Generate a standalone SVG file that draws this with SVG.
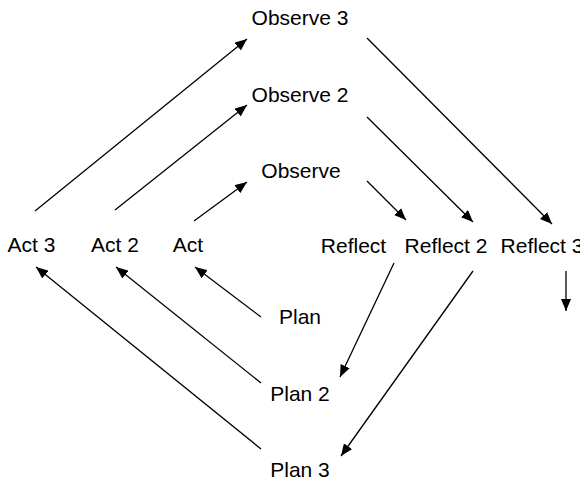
<svg xmlns="http://www.w3.org/2000/svg" width="580" height="481" viewBox="0 0 580 481">
  <style>
    text { font-family: "Liberation Sans", Arial, Helvetica, sans-serif; font-size: 21px; fill: #000; text-anchor: middle; }
    .edge { stroke: #000; stroke-width: 1.3; fill: none; marker-end: url(#arrow); }
  </style>
  <defs>
    <marker id="arrow" viewBox="0 0 12 10" refX="12" refY="5" markerWidth="12" markerHeight="10" orient="auto" markerUnits="userSpaceOnUse">
      <path d="M0,0 L12,5 L0,10 z" fill="#000"/>
    </marker>
  </defs>
  <rect width="580" height="481" fill="#fff"/>
  <g id="observe3"><text x="300" y="25">Observe 3</text></g>
  <g id="observe2"><text x="300" y="102">Observe 2</text></g>
  <g id="observe"><text x="301" y="178">Observe</text></g>
  <g id="act3"><text x="31.5" y="252">Act 3</text></g>
  <g id="act2"><text x="115" y="252">Act 2</text></g>
  <g id="act"><text x="188" y="252">Act</text></g>
  <g id="reflect"><text x="353.5" y="252.5">Reflect</text></g>
  <g id="reflect2"><text x="446" y="252.5">Reflect 2</text></g>
  <g id="reflect3"><text x="542" y="252.5">Reflect 3</text></g>
  <g id="plan"><text x="300" y="324">Plan</text></g>
  <g id="plan2"><text x="300" y="401">Plan 2</text></g>
  <g id="plan3"><text x="300" y="477">Plan 3</text></g>
  <g id="connectors">
    <line class="edge" x1="35" y1="211" x2="247" y2="39"/>
    <line class="edge" x1="115" y1="210" x2="247" y2="105"/>
    <line class="edge" x1="194" y1="221" x2="247" y2="182"/>
    <line class="edge" x1="367" y1="181" x2="406" y2="220"/>
    <line class="edge" x1="367" y1="117" x2="473" y2="222"/>
    <line class="edge" x1="367" y1="38" x2="552" y2="224"/>
    <line class="edge" x1="394" y1="263" x2="340" y2="377"/>
    <line class="edge" x1="473" y1="271" x2="341" y2="456"/>
    <line class="edge" x1="566" y1="271" x2="566" y2="311"/>
    <line class="edge" x1="261" y1="317" x2="195" y2="267"/>
    <line class="edge" x1="261" y1="383" x2="116" y2="267"/>
    <line class="edge" x1="261" y1="449" x2="36" y2="267"/>
  </g>
</svg>
